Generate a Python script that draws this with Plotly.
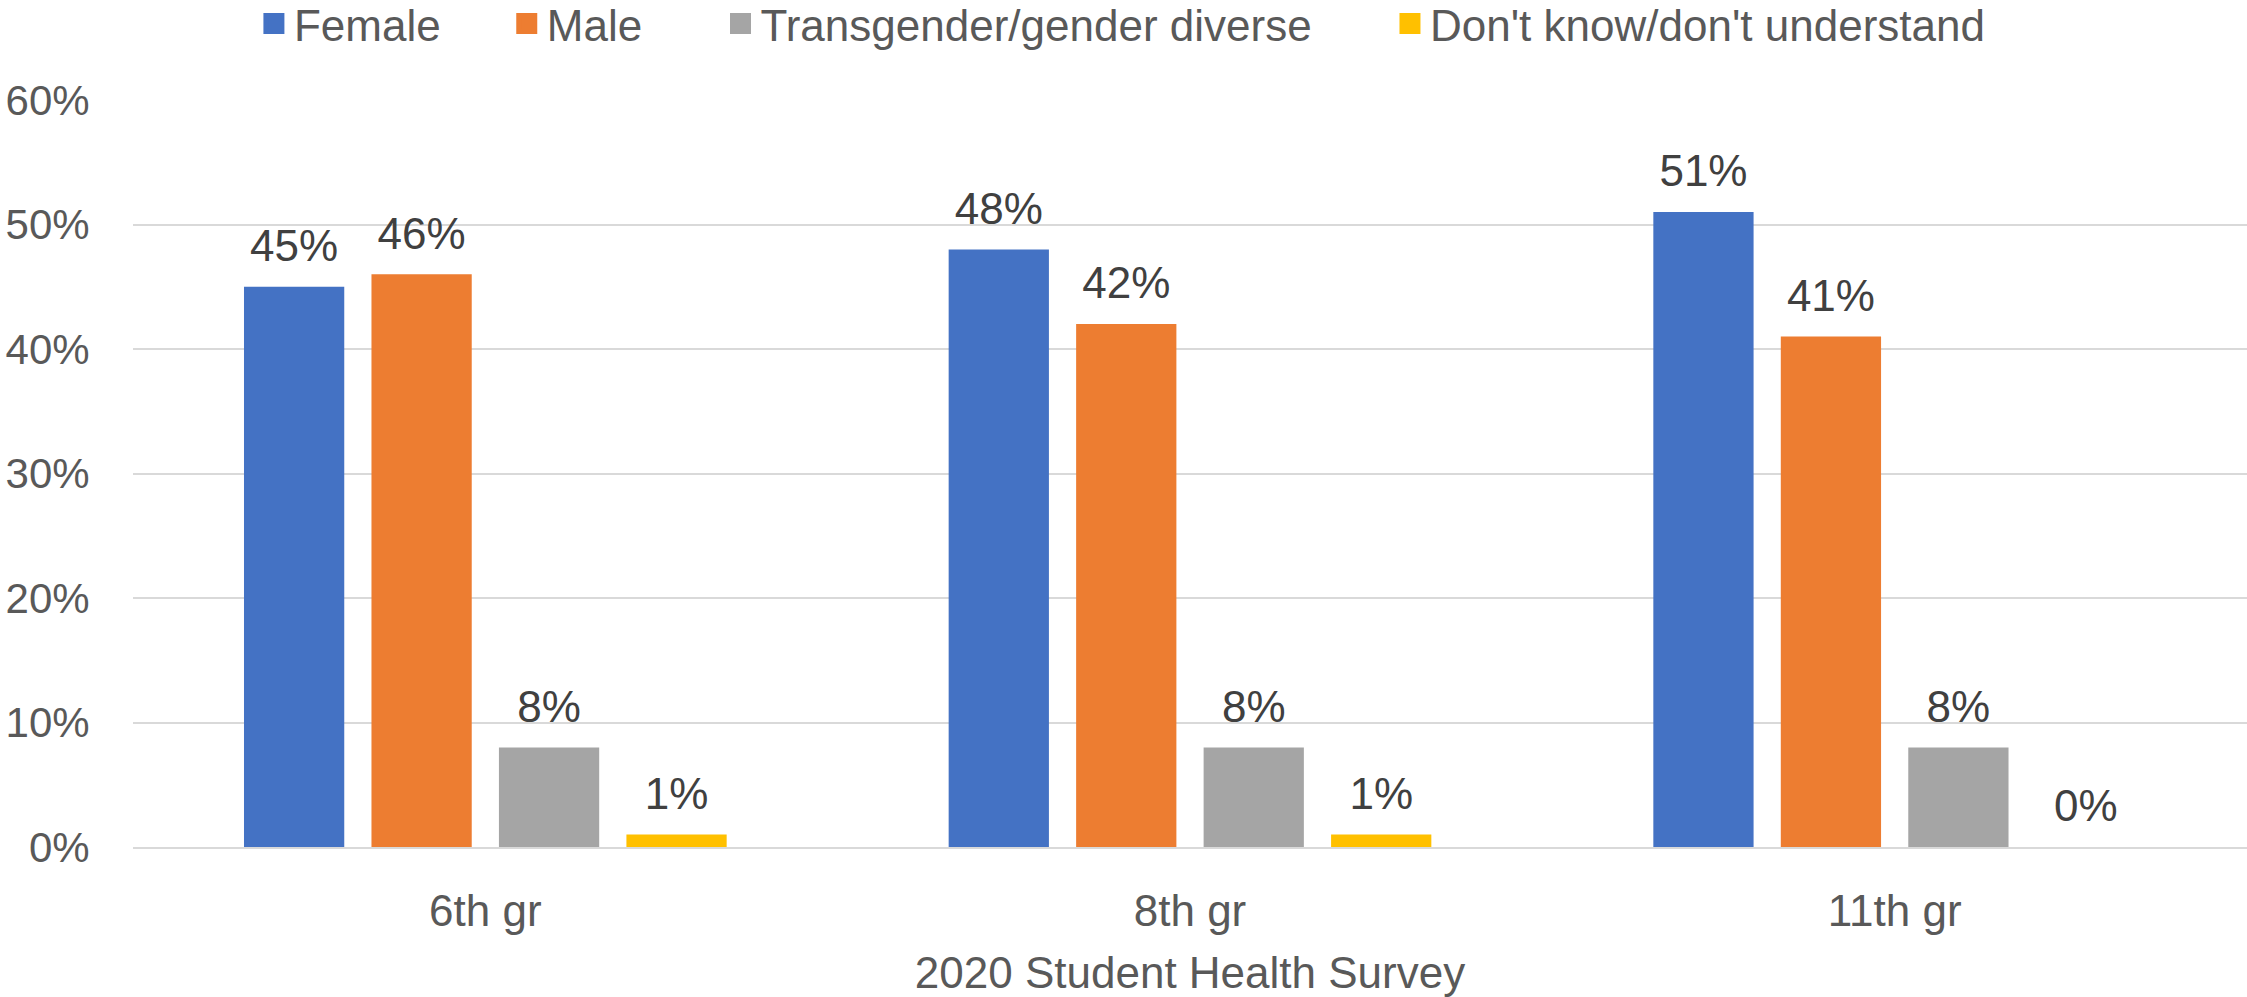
import plotly.graph_objects as go

categories = ["6th gr", "8th gr", "11th gr"]
series_names = ["Female", "Male", "Transgender/gender diverse", "Don't know/don't understand"]
female = [45, 48, 51]
male = [46, 42, 41]
trans = [8, 8, 8]
dont_know = [1, 1, 0]
y_ticks = [0, 10, 20, 30, 40, 50, 60]
y_tick_labels = ["0%", "10%", "20%", "30%", "40%", "50%", "60%"]
x_title = "2020 Student Health Survey"

colors = ["#4472C4", "#ED7D31", "#A5A5A5", "#FFC000"]
values = [female, male, trans, dont_know]
groups = ["f", "m", "t", "d"]
legend_pads = [5, 6, 6, 0]

FONT = "Liberation Sans"
fig = go.Figure()

for name, vals, col, g in zip(series_names, values, colors, groups):
    fig.add_trace(go.Bar(
        x=categories, y=vals, name=name, marker=dict(color=col, line=dict(width=0)),
        offsetgroup=g, showlegend=False, hoverinfo="x+y",
    ))

for name, vals, col, g in zip(series_names, values, colors, groups):
    fig.add_trace(go.Scatter(
        x=categories, y=vals, mode="markers+text", offsetgroup=g,
        marker=dict(size=22, opacity=0, color=col),
        text=[f"{v}%" for v in vals], textposition="top center",
        textfont=dict(family=FONT, size=44, color="#404040"),
        showlegend=False, hoverinfo="skip", cliponaxis=False,
    ))

for name, col, g, p in zip(series_names, colors, groups, legend_pads):
    fig.add_trace(go.Scatter(
        x=[None], y=[None], mode="markers", offsetgroup=g,
        name=name + "\u00a0" * p,
        marker=dict(symbol="square", size=16, color=col, line=dict(color=col, width=5)),
        showlegend=True,
    ))

fig.update_layout(
    width=2247, height=997,
    paper_bgcolor="white", plot_bgcolor="white",
    margin=dict(l=133, r=0, t=100, b=150, autoexpand=False),
    barmode="group", bargap=0.2764, bargroupgap=0.2135,
    scattermode="group", scattergap=0.2764,
    font=dict(family=FONT, size=44, color="#595959"),
    legend=dict(
        orientation="h", xref="container", yref="container",
        x=0.113, xanchor="left", y=0.976, yanchor="middle",
        font=dict(family=FONT, size=44, color="#595959"),
        bgcolor="rgba(0,0,0,0)", itemclick=False,
    ),
    showlegend=True,
)

fig.update_yaxes(
    range=[0, 60], tickvals=y_ticks, ticktext=y_tick_labels,
    showgrid=True, gridcolor="#D9D9D9", gridwidth=2,
    zeroline=False, showline=False,
    ticks="outside", ticklen=34, tickcolor="rgba(0,0,0,0)",
    tickfont=dict(family=FONT, size=42, color="#595959"),
)
fig.update_xaxes(
    type="category",
    showline=True, linecolor="#D9D9D9", linewidth=2,
    showgrid=False, zeroline=False,
    ticks="outside", ticklen=24, tickcolor="rgba(0,0,0,0)",
    tickfont=dict(family=FONT, size=44, color="#595959"),
    title=dict(text=x_title, standoff=44, font=dict(family=FONT, size=44, color="#595959")),
)

fig.write_html(
    "out.html",
    config={"displayModeBar": False},
    post_script="document.body.style.margin='0';document.body.style.overflow='hidden';",
)
